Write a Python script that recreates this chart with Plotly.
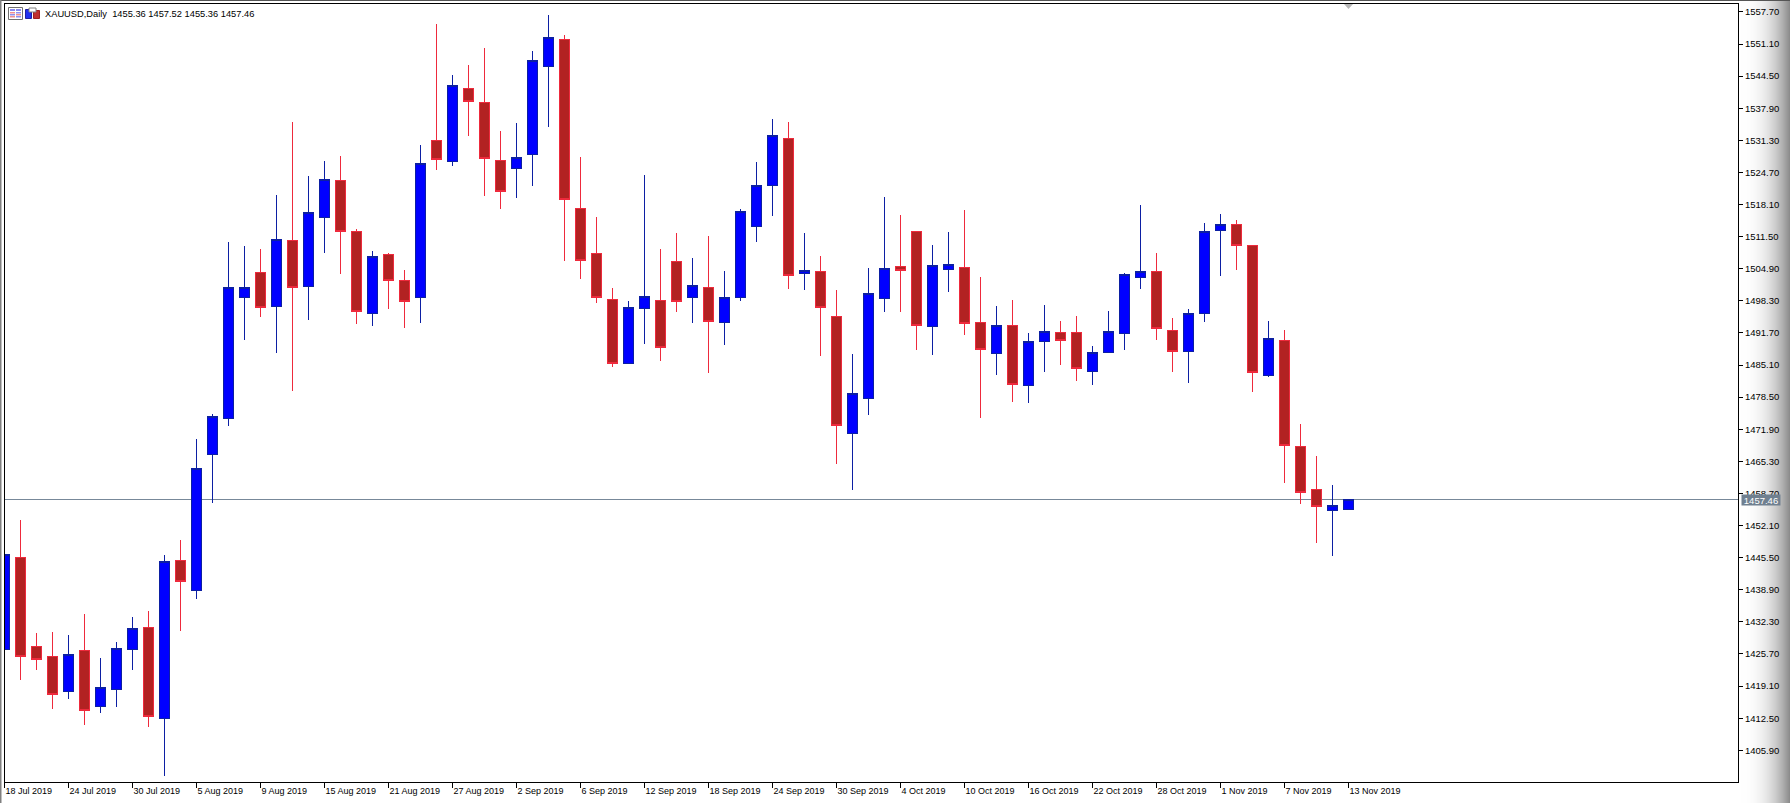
import pandas as pd
import plotly.graph_objects as go

W, H = 1790, 803
L, R, T, B = 4, 1738, 4, 782

symbol_label = "XAUUSD,Daily"
last_ohlc = ["1455.36", "1457.52", "1455.36", "1457.46"]
last_price = 1457.46

dates = [d.strftime("%-d %b %Y") for d in pd.bdate_range("2019-07-18", periods=85)]

opens = [1426.65,1445.44,1427.21,1425.09,1418.02,1426.32,1414.93,1418.43,1426.65,1431.05,
         1412.47,1444.83,1438.78,1466.74,1474.15,1499.02,1504.04,1497.17,1510.62,1501.28,
         1515.47,1522.95,1512.47,1495.61,1507.74,1502.39,1498.90,1531.18,1526.98,1541.87,
         1538.99,1527.07,1525.55,1528.30,1546.52,1551.94,1517.20,1507.95,1498.49,1485.45,
         1496.64,1498.28,1506.30,1498.90,1500.96,1493.88,1499.02,1513.62,1522.05,1531.59,
         1503.96,1504.25,1494.99,1471.06,1478.26,1498.82,1505.27,1512.47,1493.06,1504.78,
         1505.07,1493.76,1487.51,1493.14,1480.93,1489.98,1491.70,1491.70,1483.81,1487.76,
         1491.62,1503.13,1504.25,1492.11,1487.92,1495.73,1512.80,1513.91,1509.59,1482.99,
         1490.06,1468.27,1459.42,1455.23,1455.36]
highs = [1446.12,1453.17,1430.09,1430.29,1429.67,1433.99,1424.95,1428.23,1433.37,1434.61,
         1446.12,1449.21,1469.97,1475.11,1510.47,1509.65,1509.04,1520.14,1535.15,1524.04,
         1527.13,1528.16,1513.15,1508.62,1508.21,1504.72,1530.42,1555.30,1544.81,1546.87,
         1550.36,1533.30,1534.94,1549.74,1557.15,1553.03,1527.95,1515.61,1501.02,1498.34,
         1524.25,1509.04,1512.33,1507.19,1511.71,1504.51,1517.20,1526.86,1535.76,1535.15,
         1512.33,1507.60,1500.61,1487.45,1505.13,1519.73,1516.03,1512.74,1509.86,1512.53,
         1517.05,1503.28,1497.32,1498.55,1491.77,1497.52,1494.23,1495.26,1489.09,1496.29,
         1504.10,1518.08,1508.21,1494.85,1496.70,1514.38,1516.23,1515.00,1509.59,1494.23,
         1492.38,1473.06,1466.48,1460.51,1457.52]
lows = [1426.65,1420.42,1422.48,1414.46,1416.52,1411.17,1413.64,1414.87,1422.48,1410.76,
        1400.68,1430.50,1436.93,1456.67,1472.50,1490.18,1494.91,1487.51,1479.70,1494.29,
        1508.07,1503.90,1493.47,1493.06,1496.56,1492.65,1493.68,1525.13,1525.96,1532.12,
        1519.79,1517.12,1519.38,1521.84,1533.97,1506.42,1502.72,1497.79,1484.63,1485.25,
        1489.36,1485.86,1495.94,1493.68,1483.40,1489.15,1498.20,1510.33,1515.68,1500.67,
        1500.46,1486.89,1464.69,1459.34,1474.76,1495.94,1495.94,1488.13,1487.10,1500.05,
        1491.21,1474.15,1482.99,1477.43,1477.23,1483.60,1485.04,1481.75,1480.93,1487.76,
        1488.13,1500.67,1490.18,1483.60,1481.34,1493.88,1503.34,1504.57,1479.49,1482.58,
        1460.78,1456.46,1448.45,1445.77,1455.36]
closes = [1446.12,1425.09,1424.60,1417.40,1425.50,1414.11,1418.72,1426.73,1430.85,1412.75,
          1444.62,1440.51,1463.74,1474.43,1500.96,1500.96,1496.97,1510.82,1501.08,1516.38,
          1523.16,1512.47,1496.02,1507.33,1502.39,1498.08,1526.45,1527.27,1542.49,1539.20,
          1527.48,1520.69,1527.68,1547.63,1552.36,1519.05,1506.51,1498.90,1485.33,1496.84,
          1499.11,1488.62,1498.20,1501.37,1493.97,1498.90,1516.58,1521.93,1532.21,1503.55,
          1504.45,1496.84,1472.58,1479.16,1499.72,1504.86,1504.57,1493.14,1505.48,1505.68,
          1493.55,1488.21,1493.14,1481.01,1489.85,1491.91,1490.06,1484.30,1487.59,1491.91,
          1503.63,1504.25,1492.53,1487.80,1495.61,1512.47,1513.91,1509.59,1483.48,1490.47,
          1468.47,1458.81,1455.93,1456.13,1457.46]

y_ticks = [1557.70 - 6.6 * i for i in range(24)]
x_ticks = dates[::4]

FONT = "Liberation Sans, sans-serif"


def px(v):
    return (v - L) / (R - L)


def py(v):
    return 1 - (v - T) / (B - T)


def rect(x0, y0, x1, y1, fill, line=None, layer="above"):
    return dict(type="rect", xref="paper", yref="paper", x0=px(x0), x1=px(x1), y0=py(y1), y1=py(y0),
                fillcolor=fill, line=dict(color=line or fill, width=1 if line else 0), layer=layer)


shapes = []
# grey gradient at the right edge of the window
for i in range(1740, 1790):
    f = ((i - 1740) / 50) ** 2.4
    c = int(255 - f * 120)
    shapes.append(rect(i, 0, i + 1, H, f"rgb({c},{c},{c})", layer="below"))
# window edges
shapes.append(rect(0, 0, W, 1, "#555555"))
shapes.append(rect(0, 0, 1.5, H, "#808080"))
# left frame line of the chart
shapes.append(rect(4, 3, 5, 783, "#000000"))
# current price line
shapes.append(dict(type="line", xref="paper", yref="y", x0=0, x1=1, y0=last_price, y1=last_price,
                   line=dict(color="#778899", width=1), layer="below"))
# shift marker at the top
shapes.append(dict(type="path", xref="paper", yref="paper", fillcolor="#b8b8b8", line=dict(width=0),
                   path=f"M {px(1344)} {py(4)} L {px(1353)} {py(4)} L {px(1348.5)} {py(9)} Z"))
# legend icons in the top-left corner
shapes.append(rect(8.5, 7.5, 22.5, 19.5, "#ffffff", "#707070"))
shapes.append(rect(10, 9, 15, 11, "#8a8af0"))
shapes.append(rect(16, 9, 21, 11, "#8a8af0"))
for yy, colr in [(12, "#f09090"), (14, "#9090f0"), (16, "#f09090")]:
    shapes.append(rect(10, yy, 15, yy + 1.5, colr))
    shapes.append(rect(16, yy, 21, yy + 1.5, "#9090f0" if colr == "#f09090" else "#f09090"))
shapes.append(rect(25.5, 9.5, 31.5, 18.5, "#2030f0", "#2020a0"))
shapes.append(rect(33.5, 10.5, 39.5, 18.5, "#c03030", "#a02020"))
shapes.append(rect(29, 8, 36, 12, "#ffffff", "#808080"))

annotations = [
    dict(xref="paper", yref="paper", x=px(44), y=py(13.5), xanchor="left", yanchor="middle", showarrow=False,
         borderpad=0, text=symbol_label + "\u00a0\u00a0" + "\u00a0".join(last_ohlc),
         font=dict(family=FONT, size=9.3, color="black")),
    dict(xref="paper", yref="y", x=px(1741), y=last_price, xanchor="left", yanchor="middle", showarrow=False,
         text=f"{last_price:.2f}", font=dict(family=FONT, size=9.5, color="white"), bgcolor="#708090",
         width=38, height=10, align="center", borderpad=0),
]

fig = go.Figure(go.Candlestick(
    x=dates, open=opens, high=highs, low=lows, close=closes,
    whiskerwidth=0, hoverinfo="skip",
    increasing=dict(line=dict(color="#0c1fa3", width=1), fillcolor="#0000ff"),
    decreasing=dict(line=dict(color="#ee2a3c", width=1), fillcolor="#b22222"),
))

fig.update_layout(
    width=W, height=H, autosize=False,
    margin=dict(l=L, r=W - R, t=T, b=H - B, pad=0, autoexpand=False),
    paper_bgcolor="white", plot_bgcolor="white", showlegend=False,
    boxgap=0.375, boxgroupgap=0, shapes=shapes, annotations=annotations,
    font=dict(family=FONT, size=10, color="black"),
    xaxis=dict(type="category", range=[-0.03125, -0.03125 + (R - L) / 16], rangeslider=dict(visible=False),
               automargin=False, tickmode="array", tickvals=x_ticks, ticktext=x_ticks, ticks="outside",
               ticklen=5, tickangle=0, tickcolor="black", tickwidth=1, showgrid=False, zeroline=False,
               showline=True, linecolor="black", linewidth=1, mirror=True, ticklabelposition="outside right",
               tickfont=dict(family=FONT, size=9, color="black")),
    yaxis=dict(side="right", range=[1399.38, 1559.33], tickmode="array", tickvals=y_ticks, automargin=False,
               ticktext=[f"{v:.2f}" for v in y_ticks], ticks="outside", ticklen=4, tickcolor="black",
               tickwidth=1, showgrid=False, zeroline=False, showline=True, linecolor="black", linewidth=1,
               mirror=False, tickfont=dict(family=FONT, size=9.5, color="black")),
)

fig.write_html("out.html", config=dict(displayModeBar=False),
               post_script="document.body.style.margin='0';document.body.style.overflow='hidden';"
                           "document.querySelectorAll('.boxlayer path').forEach(function(p){"
                           "p.style.shapeRendering='crispEdges';});")
